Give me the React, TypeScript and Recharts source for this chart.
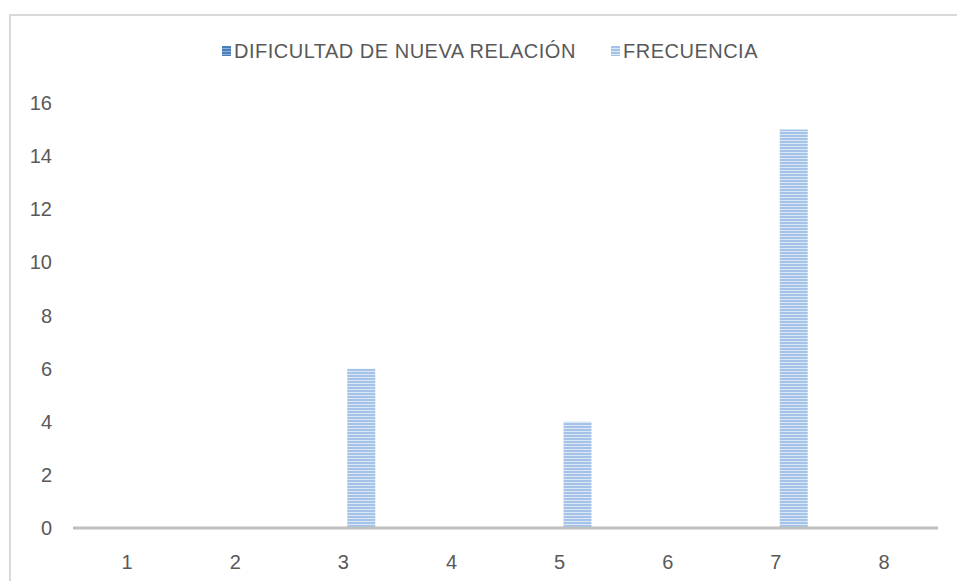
import { BarChart, Bar, XAxis, YAxis } from "recharts";

const categories = ["1", "2", "3", "4", "5", "6", "7", "8"];
const dificultad = [0, 0, 0, 0, 0, 0, 0, 0];
const frecuencia = [0, 0, 6, 0, 4, 0, 15, 0];
const yTicks = [0, 2, 4, 6, 8, 10, 12, 14, 16];
const seriesNames = ["DIFICULTAD DE NUEVA RELACIÓN", "FRECUENCIA"];

const data = categories.map((c, i) => ({
  name: c,
  dificultad: dificultad[i],
  frecuencia: frecuencia[i],
}));

const FONT = "'Liberation Sans', Arial, sans-serif";
const TEXT = "#595959";

const Stripes = ({ id, dark, light }: { id: string; dark: string; light: string }) => (
  <pattern id={id} width="4" height="3" patternUnits="userSpaceOnUse">
    <rect width="4" height="3" fill={light} />
    <rect width="4" height="2" fill={dark} />
  </pattern>
);

const LegendMark = ({ dark, light, id }: { dark: string; light: string; id: string }) => (
  <svg width={9} height={10} style={{ marginRight: 3 }}>
    <defs>
      <Stripes id={id} dark={dark} light={light} />
    </defs>
    <rect width={9} height={10} fill={`url(#${id})`} />
  </svg>
);

const legendRow = {
  position: "absolute" as const,
  top: 40,
  height: 22,
  display: "flex",
  alignItems: "center",
  fontSize: 20,
  color: TEXT,
  letterSpacing: 0.5,
  whiteSpace: "nowrap" as const,
};

export default function App() {
  return (
    <div style={{ position: "absolute", left: 0, top: 0, width: 957, height: 581, background: "#fff", fontFamily: FONT }}>
      <div
        style={{
          position: "absolute",
          left: 9,
          top: 14,
          width: 948,
          height: 567,
          borderTop: "2px solid #D9D9D9",
          borderLeft: "2px solid #D9D9D9",
        }}
      />
      <div style={{ ...legendRow, left: 222 }}>
        <LegendMark id="lg1" dark="#4A7EBB" light="#8DB0DC" />
        <span>{seriesNames[0]}</span>
      </div>
      <div style={{ ...legendRow, left: 611 }}>
        <LegendMark id="lg2" dark="#A5C3E8" light="#DCE7F5" />
        <span>{seriesNames[1]}</span>
      </div>
      <div style={{ position: "absolute", left: 0, top: 0 }}>
        <BarChart
          width={957}
          height={581}
          data={data}
          margin={{ top: 103, right: 19, left: 0, bottom: 0 }}
          barGap={8}
        >
          <defs>
            <Stripes id="pDif" dark="#4A7EBB" light="#8DB0DC" />
            <Stripes id="pFrec" dark="#A5C3E8" light="#DCE7F5" />
          </defs>
          <XAxis
            dataKey="name"
            height={53}
            stroke="#BFBFBF"
            strokeWidth={3}
            tickLine={false}
            tickSize={6}
            tickMargin={21}
            tick={{ fill: TEXT, fontSize: 20, fontFamily: FONT }}
          />
          <YAxis
            width={73}
            domain={[0, 16]}
            ticks={yTicks}
            interval={0}
            axisLine={false}
            tickLine={false}
            tickSize={6}
            tickMargin={15}
            tick={{ fill: TEXT, fontSize: 20, fontFamily: FONT }}
          />
          <Bar dataKey="dificultad" name={seriesNames[0]} fill="url(#pDif)" barSize={28} isAnimationActive={false} />
          <Bar dataKey="frecuencia" name={seriesNames[1]} fill="url(#pFrec)" barSize={28} isAnimationActive={false} />
        </BarChart>
      </div>
    </div>
  );
}
